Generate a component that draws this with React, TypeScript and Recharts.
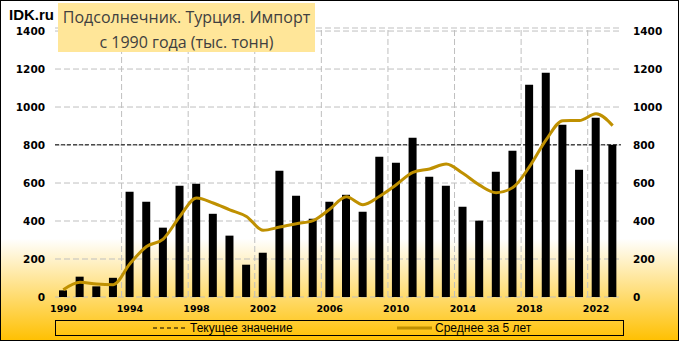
import React from 'react';
import {
  ComposedChart,
  Bar,
  Line,
  XAxis,
  YAxis,
  CartesianGrid,
  ReferenceLine,
  ReferenceArea,
} from 'recharts';

const years: string[] = [
  '1990', '1991', '1992', '1993', '1994', '1995', '1996', '1997', '1998', '1999',
  '2000', '2001', '2002', '2003', '2004', '2005', '2006', '2007', '2008', '2009',
  '2010', '2011', '2012', '2013', '2014', '2015', '2016', '2017', '2018', '2019',
  '2020', '2021', '2022', '2023',
];

const imports: number[] = [
  35, 107, 56, 101, 554, 502, 365, 586, 596, 438,
  323, 170, 233, 665, 533, 412, 502, 538, 449, 738,
  707, 838, 633, 586, 475, 402, 659, 770, 1117, 1180,
  907, 670, 943, 801,
];

const avg5: number[] = [
  38, 77, 68, 65, 175, 266, 305, 424, 521, 495,
  459, 424, 351, 368, 386, 402, 462, 528, 486, 530,
  591, 656, 674, 700, 651, 589, 549, 576, 686, 827,
  928, 929, 964, 902,
];

const yTicks: number[] = [0, 200, 400, 600, 800, 1000, 1200, 1400];
// vertical grid lines sit on the left edge of these years' bands
const gridYears: string[] = ['1994', '1998', '2002', '2006', '2010', '2014', '2018', '2022'];
const currentValue = 801;

const titleLine1 = 'Подсолнечник. Турция. Импорт';
const titleLine2 = 'с 1990 года (тыс. тонн)';
const legendCurrent = 'Текущее значение';
const legendAvg = 'Среднее за 5 лет';

const data = years.map((y, i) => ({ year: y, value: imports[i], avg: avg5[i] }));

const GOLD = '#BF9000';
const axisFont = '"DejaVu Sans", Verdana, sans-serif';

export default function App() {
  return (
    <div
      style={{
        position: 'absolute',
        left: 0,
        top: 0,
        width: 679,
        height: 341,
        background: 'linear-gradient(180deg, #ffffff 0%, #ffffff 70%, #FFC000 100%)',
      }}
    >
      <ComposedChart
        width={679}
        height={341}
        data={data}
        margin={{ top: 28, right: 0, bottom: 24, left: 0 }}
        barCategoryGap={0}
      >
        <CartesianGrid yAxisId="left" vertical={false} stroke="#BFBFBF" strokeDasharray="6 3" />
        {gridYears.map((g) => (
          <ReferenceLine
            key={g}
            yAxisId="left"
            x={g}
            position="start"
            stroke="#BFBFBF"
            strokeDasharray="6 3"
          />
        ))}
        <XAxis
          dataKey="year"
          interval={3}
          tickLine={false}
          axisLine={false}
          height={20}
          tick={{ fontFamily: axisFont, fontWeight: 'bold', fontSize: 9.5, fill: '#000' }}
        />
        <YAxis
          yAxisId="left"
          orientation="left"
          width={55}
          domain={[0, 1416]}
          ticks={yTicks}
          tickLine={false}
          axisLine={false}
          tickMargin={4}
          tick={{ fontFamily: axisFont, fontWeight: 'bold', fontSize: 10.5, fill: '#000' }}
        />
        <YAxis
          yAxisId="right"
          orientation="right"
          width={58}
          domain={[0, 1416]}
          ticks={yTicks}
          tickLine={false}
          axisLine={false}
          tickMargin={6}
          tick={{ fontFamily: axisFont, fontWeight: 'bold', fontSize: 10.5, fill: '#000' }}
        />
        <Bar yAxisId="left" dataKey="value" fill="#000" barSize={8} isAnimationActive={false} />
        <Line
          yAxisId="right"
          type="linear"
          dataKey="value"
          stroke="none"
          strokeOpacity={0}
          dot={false}
          activeDot={false}
          legendType="none"
          isAnimationActive={false}
        />
        <ReferenceLine yAxisId="left" y={currentValue} stroke="#000" strokeDasharray="4 2" />
        <Line
          yAxisId="left"
          type="monotone"
          dataKey="avg"
          stroke={GOLD}
          strokeWidth={3}
          dot={false}
          activeDot={false}
          isAnimationActive={false}
        />
        <ReferenceArea yAxisId="left" fill="none" stroke="#000" strokeWidth={1} ifOverflow="visible" />
      </ComposedChart>
      <svg
        width={679}
        height={341}
        style={{ position: 'absolute', left: 0, top: 0, pointerEvents: 'none' }}
      >
        <rect x={0.5} y={0.5} width={678} height={340} fill="none" stroke="#000" />
        <text
          x={9}
          y={20}
          fontFamily='"Liberation Sans", Arial, sans-serif'
          fontWeight="bold"
          fontSize={15}
          fill="#000"
        >
          IDK.ru
        </text>
        <rect x={58} y={3} width={257} height={49} fill="#FFE699" />
        <text
          x={186.5}
          y={23}
          textAnchor="middle"
          fontFamily='"Open Sans", "Noto Sans", sans-serif'
          fontSize={16}
          fill="#404040"
        >
          {titleLine1}
        </text>
        <text
          x={186.5}
          y={48}
          textAnchor="middle"
          fontFamily='"Open Sans", "Noto Sans", sans-serif'
          fontSize={16}
          fill="#404040"
        >
          {titleLine2}
        </text>
        <rect x={55.5} y={320.5} width={568} height={15} fill="none" stroke="#000" />
        <line x1={153} y1={328} x2={186} y2={328} stroke="#000" strokeDasharray="4 3" />
        <text x={190} y={332} fontFamily='"Liberation Sans", Arial, sans-serif' fontSize={12} fill="#000">
          {legendCurrent}
        </text>
        <line x1={397} y1={328} x2={432} y2={328} stroke={GOLD} strokeWidth={3} />
        <text x={435} y={332} fontFamily='"Liberation Sans", Arial, sans-serif' fontSize={12} fill="#000">
          {legendAvg}
        </text>
      </svg>
    </div>
  );
}
